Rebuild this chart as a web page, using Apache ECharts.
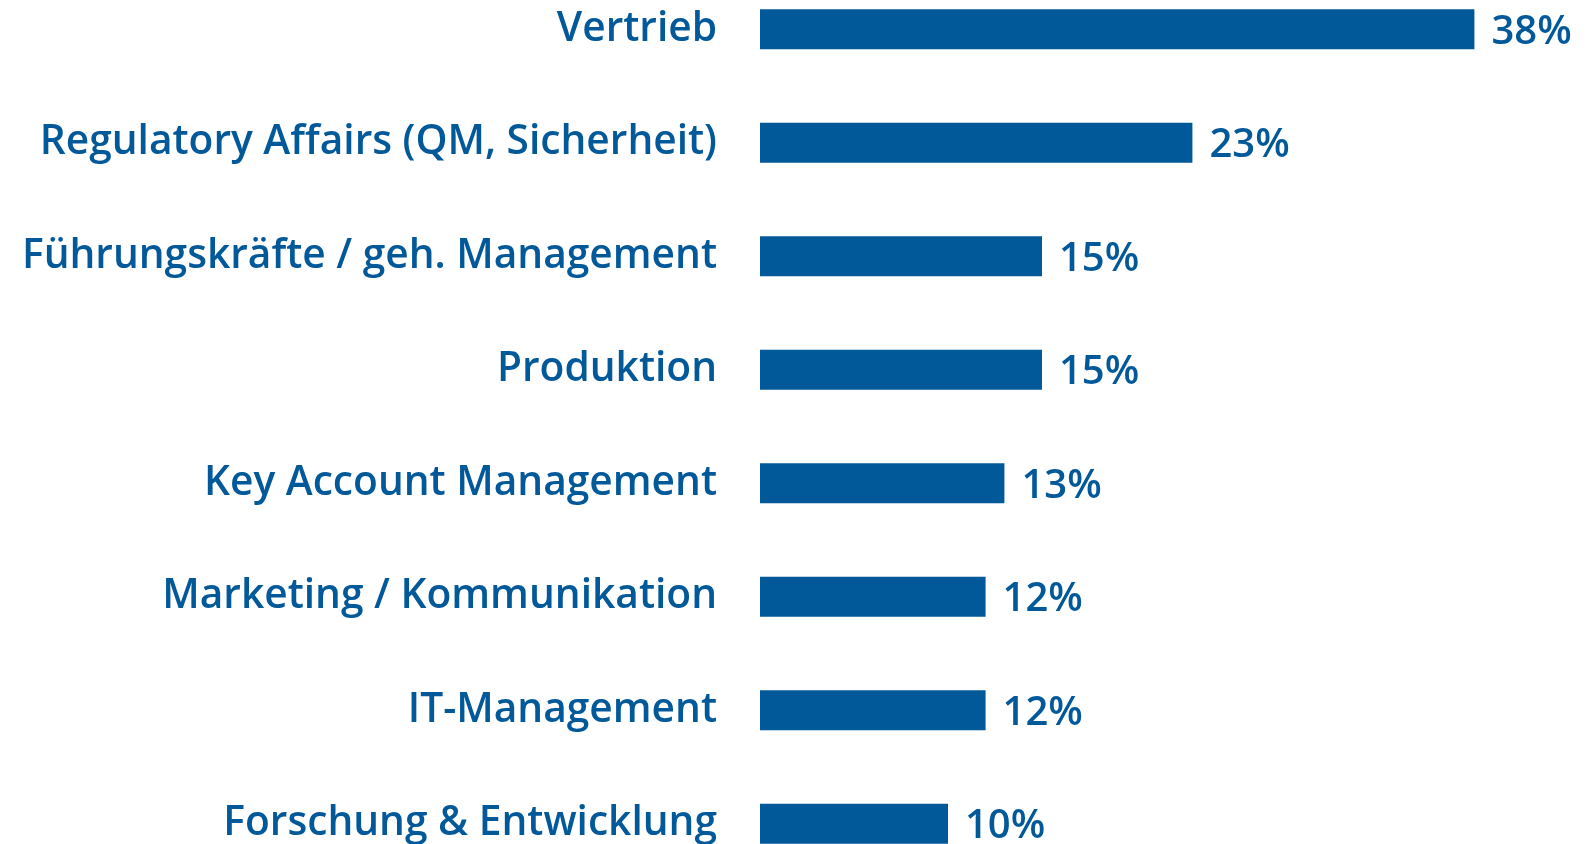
<!doctype html>
<html>
    <head>
        <meta charset="utf-8">
        <title>Bereiche</title>
        <style>
            html, body { margin: 0; padding: 0; background: #fff; }
            #main { width: 1586px; height: 844px; }
        </style>
    </head>
    <body>
        <div id="main"></div>
        <script src="https://cdn.jsdelivr.net/npm/echarts@6/dist/echarts.min.js"></script>
        <script>
            var categories = [
                'Vertrieb',
                'Regulatory Affairs (QM, Sicherheit)',
                'Führungskräfte / geh. Management',
                'Produktion',
                'Key Account Management',
                'Marketing / Kommunikation',
                'IT-Management',
                'Forschung & Entwicklung'
            ];
            var values = [38, 23, 15, 15, 13, 12, 12, 10];

            var blue = '#02599a';
            var font = '"Open Sans", "Noto Sans", sans-serif';

            var chart = echarts.init(document.getElementById('main'), null, {
                devicePixelRatio: 1
            });

            chart.setOption({
                backgroundColor: '#fff',
                animation: false,
                grid: {
                    left: 760,
                    width: 752,
                    top: -27.5,
                    height: 908,
                    containLabel: false,
                    outerBoundsMode: 'none'
                },
                xAxis: {
                    type: 'value',
                    min: 0,
                    max: 40,
                    show: false
                },
                yAxis: {
                    type: 'category',
                    inverse: true,
                    data: categories,
                    axisLine: { show: false },
                    axisTick: { show: false },
                    axisLabel: {
                        margin: 43,
                        color: blue,
                        fontFamily: font,
                        fontWeight: 600,
                        fontSize: 40.7
                    }
                },
                series: [{
                    type: 'bar',
                    data: values,
                    barWidth: 40,
                    itemStyle: { color: blue },
                    label: {
                        show: true,
                        position: 'right',
                        distance: 17,
                        offset: [0, 3],
                        formatter: '{c}%',
                        color: blue,
                        fontFamily: font,
                        fontWeight: 600,
                        fontSize: 40
                    }
                }]
            });

            window.onresize = chart.resize;
        </script>
    </body>
</html>
